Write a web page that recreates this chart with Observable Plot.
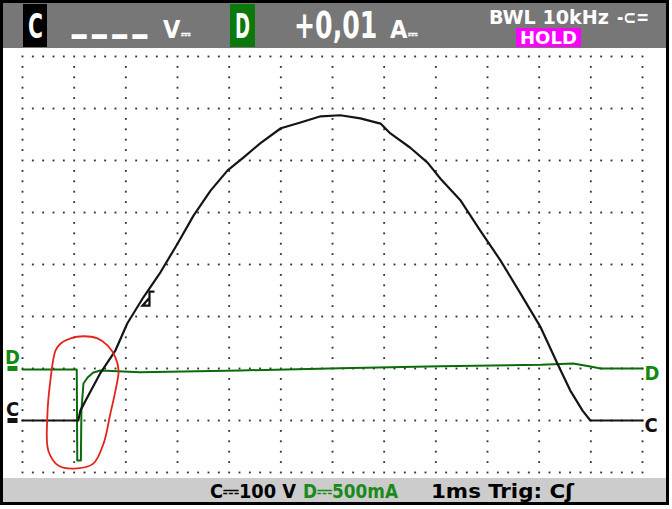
<!DOCTYPE html>
<html>
<head>
<meta charset="utf-8">
<script src="https://cdn.jsdelivr.net/npm/d3@7"></script>
<script src="https://cdn.jsdelivr.net/npm/@observablehq/plot@0.6"></script>
<style>
  html, body { margin: 0; padding: 0; background: #fff; }
  #scope { position: relative; width: 672px; height: 509px; overflow: hidden; background: #fff; }
  #plot { position: absolute; left: 0; top: 48px; }
  #chrome { position: absolute; left: 0; top: 0; pointer-events: none; }
</style>
</head>
<body>
<div id="scope"><div id="plot"></div><svg id="chrome" width="672" height="509"></svg></div>
<script>
// ---- Channel C (voltage, 100 V/div), time in ms (1 ms/div)
const timeC  = [0, 1.08, 1.12, 1.22, 1.5, 1.8, 2.03, 2.34, 2.67, 3.0, 3.31, 3.64, 3.97, 4.28, 4.6, 5.0, 5.38, 5.77, 6.15, 6.54, 6.93, 7.12, 7.5, 7.84, 8.09, 8.48, 8.86, 9.25, 9.64, 10.03, 10.35, 10.6, 10.84, 10.99, 12];
const voltsC = [0, 0, 19, 38, 90, 135, 187, 237, 285, 340, 394, 442, 481, 506, 533, 562, 573, 585, 587, 581, 571, 552, 525, 496, 465, 423, 365, 308, 244, 179, 110, 58, 19, 0, 0];

// ---- Channel D (current, 500 mA/div)
const timeD    = [0, 1.05, 1.06, 1.13, 1.14, 1.18, 1.26, 1.37, 1.51, 2.28, 4.22, 6.15, 8.09, 10.03, 10.66, 10.99, 11.19, 12];
const currentD = [-10, -10, -885, -885, -404, -144, -87, -38, -20, -36, -19, 3, 22, 36, 48, 19, 0, 0];

// ---- scope settings
const voltsPerDiv = 100, mAPerDiv = 500;
const zeroDivC = 1, zeroDivD = 2;       // ground reference levels (divisions from bottom)
const timeDivs = 12, vertDivs = 8, subDivs = 5;

// ---- trigger marker (on trace C)
const triggerT = [2.38], triggerV = [240];

// ---- hand-drawn red loop annotation (time ms, divisions)
const loopT   = [1.18, 0.93, 0.74, 0.64, 0.54, 0.48, 0.50, 0.70, 1.06, 1.37, 1.57, 1.70, 1.80, 1.86, 1.80, 1.65, 1.45];
const loopDiv = [2.62, 2.58, 2.48, 2.35, 1.77, 1.06, 0.42, 0.13, 0.08, 0.17, 0.56, 1.13, 1.58, 1.96, 2.21, 2.44, 2.58];

// ---- texts
const chanNames = ["C", "D"];
const topTexts = {dashes: "----", unitV: "V", reading: "+0,01", unitA: "A", dc: "\u2393", bwl: "BWL 10kHz", plug: "-\u2282=", hold: "HOLD"};
const bottomTexts = {c: "C\u2393100 V", d: "D\u2393500mA", time: "1ms Trig: C\u0283"};

const green = "#0b6a0b", greenLabel = "#118a11";

const cData = timeC.map((t, i) => ({t, div: voltsC[i] / voltsPerDiv + zeroDivC}));
const dData = timeD.map((t, i) => ({t, div: currentD[i] / mAPerDiv + zeroDivD}));
const loopData = loopT.map((t, i) => ({t, div: loopDiv[i]}));
const trigData = triggerT.map((t, i) => ({t, div: triggerV[i] / voltsPerDiv + zeroDivC}));

// grid dots: dotted lines at each division, 5 dots per division
const grid = [];
for (let i = 0; i <= timeDivs; i++) for (let j = 0; j <= vertDivs * subDivs; j++) grid.push({t: i, div: j / subDivs});
for (let j = 0; j <= vertDivs; j++) for (let i = 0; i <= timeDivs * subDivs; i++) if (i % subDivs) grid.push({t: i / subDivs, div: j});

const barSymbol = {draw(ctx) { ctx.rect(-5, -2.5, 10, 5); }};
const trigSymbol = {draw(ctx) {
  ctx.moveTo(8, -7); ctx.lineTo(3, -7); ctx.lineTo(3, 7); ctx.lineTo(-4, 7); ctx.lineTo(3, -1);
}};
const font = "'DejaVu Sans Condensed', 'DejaVu Sans', sans-serif";

const leftMarks = [{name: "C", div: zeroDivC, color: "#111"}, {name: "D", div: zeroDivD, color: greenLabel}];
const rightMarks = [
  {name: "C", t: timeC[timeC.length - 1], div: cData[cData.length - 1].div, color: "#111"},
  {name: "D", t: timeD[timeD.length - 1], div: dData[dData.length - 1].div, color: greenLabel}
];

const chart = Plot.plot({
  width: 668, height: 430,
  marginLeft: 22, marginRight: 26, marginTop: 8, marginBottom: 6,
  x: {domain: [0, timeDivs], axis: null},
  y: {domain: [0, vertDivs], axis: null},
  style: {background: "#fff", overflow: "visible"},
  marks: [
    Plot.dot(grid, {x: "t", y: "div", symbol: "square", r: 1.05, fill: "#333", stroke: null}),
    Plot.line(dData, {x: "t", y: "div", stroke: green, strokeWidth: 2}),
    Plot.line(cData, {x: "t", y: "div", stroke: "#151515", strokeWidth: 2.2}),
    Plot.dot(trigData, {x: "t", y: "div", symbol: trigSymbol, dx: 1, dy: 3, fill: "none", stroke: "#111", strokeWidth: 2.2}),
    Plot.dot(leftMarks, {x: () => 0, y: "div", dx: -10, symbol: barSymbol, fill: "color", stroke: null}),
    Plot.text(leftMarks, {x: () => 0, y: "div", text: "name", dx: -10, dy: -5, lineAnchor: "bottom", fill: "color", fontSize: 20, fontWeight: "bold", fontFamily: font}),
    Plot.text(rightMarks, {x: "t", y: "div", text: "name", dx: 2, dy: 11, textAnchor: "start", lineAnchor: "bottom", fill: "color", fontSize: 20, fontWeight: "bold", fontFamily: font}),
    Plot.line(loopData, {x: "t", y: "div", stroke: "#e3241c", strokeWidth: 1.8, curve: "catmull-rom-closed"})
  ]
});
document.getElementById("plot").appendChild(chart);

// ---- instrument chrome (bars, readouts, frame)
const svg = d3.select("#chrome");
function txt(s, x, y, size, len, fill) {
  const t = svg.append("text").attr("x", x).attr("y", y).attr("font-family", font)
    .attr("font-weight", "bold").attr("font-size", size).attr("fill", fill).text(s);
  if (len) t.attr("textLength", len).attr("lengthAdjust", "spacingAndGlyphs");
  return t;
}
function unit(s, x, y) {
  const t = svg.append("text").attr("x", x).attr("y", y).attr("font-family", font)
    .attr("font-weight", "bold").attr("fill", "#fff");
  t.append("tspan").attr("font-size", 25).text(s);
  t.append("tspan").attr("font-size", 12).attr("dx", 1).text(topTexts.dc);
  return t;
}
svg.append("rect").attr("x", 2).attr("y", 2).attr("width", 665).attr("height", 46).attr("fill", "#777");
svg.append("rect").attr("x", 23).attr("y", 4).attr("width", 24).attr("height", 43).attr("fill", "#000");
txt(chanNames[0], 28, 38, 34, 15, "#fff");
txt(topTexts.dashes, 69, 46, 34, 81, "#fff");
unit(topTexts.unitV, 163, 38);
svg.append("rect").attr("x", 230).attr("y", 4).attr("width", 25).attr("height", 43).attr("fill", "#0a780a");
txt(chanNames[1], 235, 38, 34, 15, "#fff");
svg.append("text").attr("transform", "translate(294,38) scale(1,1.3)").attr("font-family", font)
  .attr("font-weight", "bold").attr("font-size", 28).attr("fill", "#fff").text(topTexts.reading);
unit(topTexts.unitA, 390, 38);
txt(topTexts.bwl, 489, 24, 19, 120, "#fff");
txt(topTexts.plug, 617, 24, 19, 32, "#fff");
svg.append("rect").attr("x", 516).attr("y", 28).attr("width", 65).attr("height", 19).attr("fill", "#ff00ff");
txt(topTexts.hold, 520, 44, 18, 57, "#fff");

svg.append("rect").attr("x", 2).attr("y", 478).attr("width", 665).attr("height", 25).attr("fill", "#cccccc");
txt(bottomTexts.c, 210, 498, 20, 86, "#000");
txt(bottomTexts.d, 303, 498, 20, 95, "#1a8a1a");
txt(bottomTexts.time, 431, 498, 20, 143, "#000");

svg.append("rect").attr("x", 1.5).attr("y", 1.5).attr("width", 666).attr("height", 502)
  .attr("fill", "none").attr("stroke", "#000").attr("stroke-width", 3);
</script>
</body>
</html>
